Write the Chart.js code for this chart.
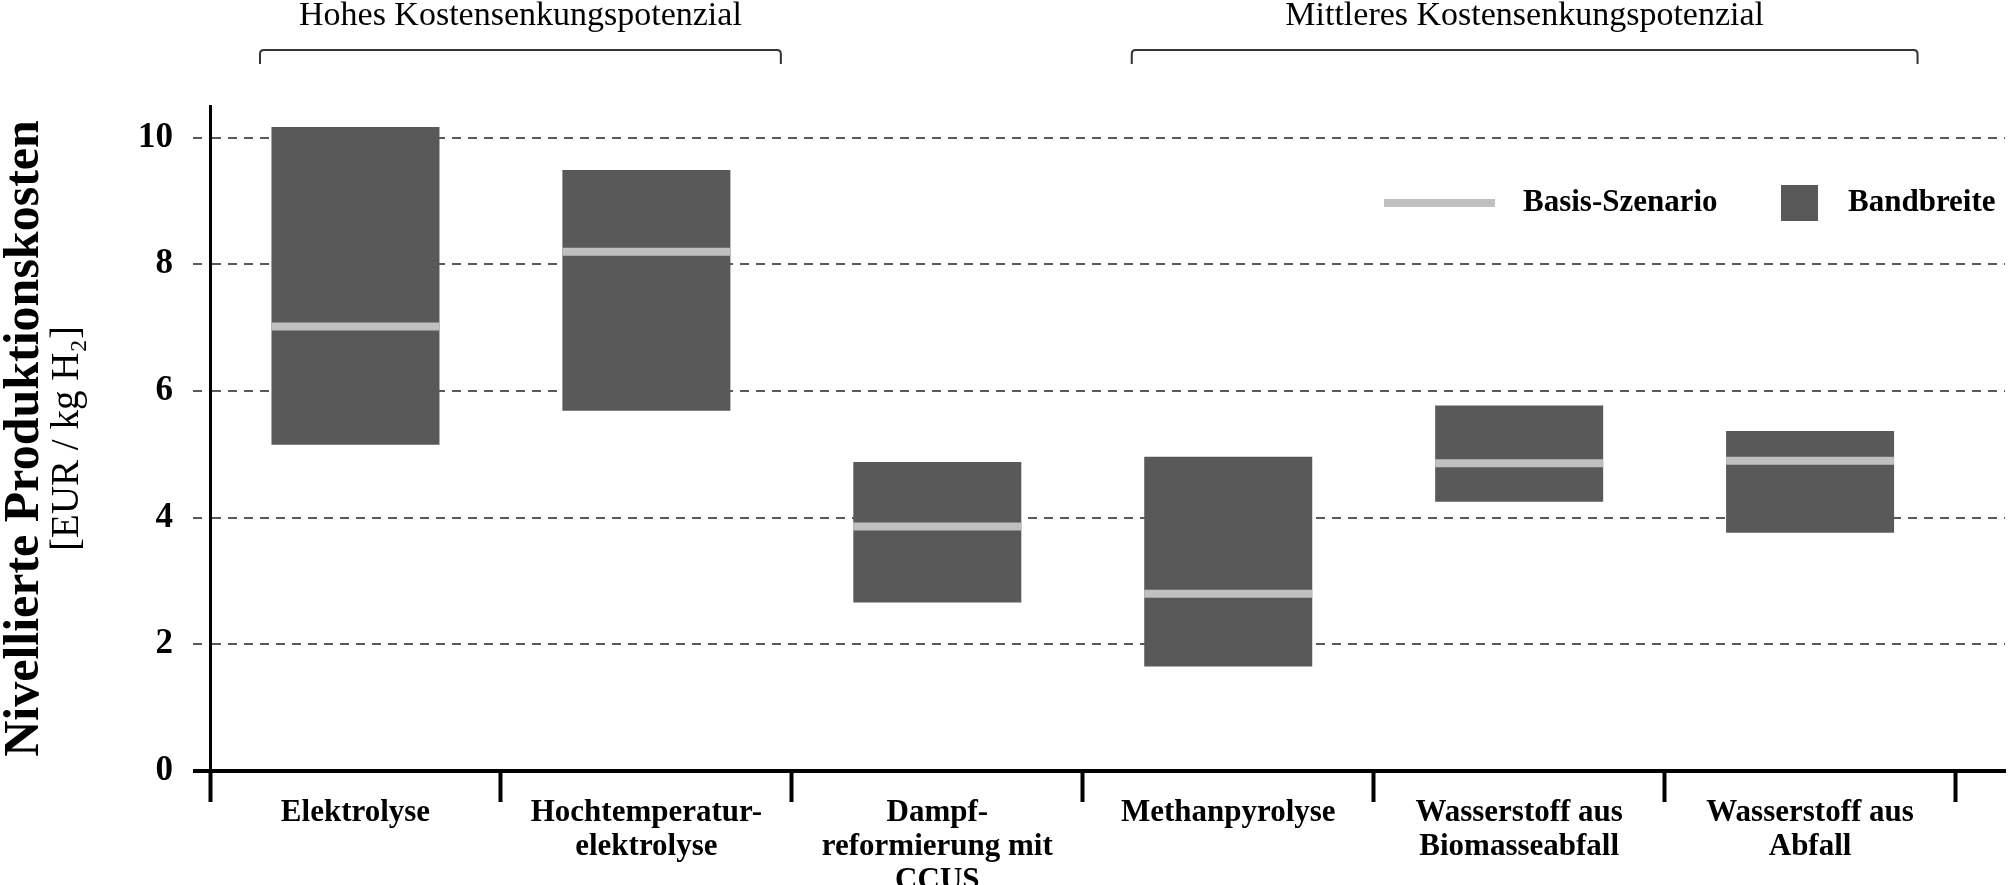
<!DOCTYPE html>
<html><head><meta charset="utf-8">
<script src="https://cdn.jsdelivr.net/npm/chart.js@4.4.0/dist/chart.umd.min.js"></script>
<style>html,body{margin:0;padding:0;background:#fff;} #wrap{width:2008px;height:885px;position:relative;}</style>
</head><body><div id="wrap"><canvas id="c" width="2008" height="885"></canvas></div>
<script>
const categories = [['Elektrolyse'], ['Hochtemperatur-','elektrolyse'], ['Dampf-','reformierung mit','CCUS'], ['Methanpyrolyse'], ['Wasserstoff aus','Biomasseabfall'], ['Wasserstoff aus','Abfall']];
const rangeLow  = [5.15, 5.69, 2.66, 1.65, 4.25, 3.76];
const rangeHigh = [10.17, 9.49, 4.88, 4.96, 5.77, 5.37];
const baseScenario = [7.02, 8.20, 3.86, 2.80, 4.86, 4.90];
const yTicks = [0, 2, 4, 6, 8, 10];
const groupLabels = ['Hohes Kostensenkungspotenzial', 'Mittleres Kostensenkungspotenzial'];
const groupFrom = [0, 3];
const groupTo = [1, 5];
const seriesNames = ['Basis-Szenario', 'Bandbreite'];
const yTitleMain = 'Nivellierte Produktionskosten';
const yTitleUnit = '[EUR / kg H\u2082]';

const SERIF = '"Liberation Serif", "Times New Roman", serif';
const DARK = '#595959', LIGHT = '#c0c0c0';
// bracket insets (px) from the category edges, per group
const BRACKET_INSET_L = [50, 49];
const BRACKET_INSET_R = [11, 38];

const decor = {
  id: 'decor',
  afterDraw(chart) {
    const {ctx, chartArea, scales: {x}} = chart;
    ctx.save();
    ctx.strokeStyle = '#333'; ctx.lineWidth = 2;
    ctx.fillStyle = '#000'; ctx.textAlign = 'center'; ctx.textBaseline = 'middle';
    ctx.font = '34px ' + SERIF;
    groupLabels.forEach((lab, i) => {
      const x1 = x.getPixelForValue(groupFrom[i] - 0.5) + BRACKET_INSET_L[i];
      const x2 = x.getPixelForValue(groupTo[i] + 0.5) - BRACKET_INSET_R[i];
      const yTop = 50, yBot = 64, r = 4;
      ctx.beginPath();
      ctx.moveTo(x1, yBot); ctx.lineTo(x1, yTop + r);
      ctx.quadraticCurveTo(x1, yTop, x1 + r, yTop);
      ctx.lineTo(x2 - r, yTop);
      ctx.quadraticCurveTo(x2, yTop, x2, yTop + r);
      ctx.lineTo(x2, yBot);
      ctx.stroke();
      ctx.fillText(lab, (x1 + x2) / 2, 16);
    });
    const ds = chart.data.datasets;
    const R = chartArea.right, ly = chartArea.top + 97;
    ctx.textAlign = 'left';
    ctx.font = 'bold 31px ' + SERIF;
    ctx.strokeStyle = ds[0].pointBorderColor; ctx.lineWidth = 8;
    ctx.beginPath(); ctx.moveTo(R - 621, ly); ctx.lineTo(R - 510, ly); ctx.stroke();
    ctx.fillText(ds[0].label, R - 482, ly);
    ctx.fillStyle = ds[1].backgroundColor;
    ctx.fillRect(R - 224, ly - 18, 37, 36);
    ctx.fillStyle = '#000';
    ctx.fillText(ds[1].label, R - 157, ly);
    ctx.restore();
  }
};

new Chart(document.getElementById('c'), {
  type: 'bar',
  data: {
    datasets: [
      {
        type: 'line', label: seriesNames[0],
        data: baseScenario.map((v, i) => ({x: i, y: v})),
        showLine: false, pointStyle: 'line', pointRadius: 84, pointHoverRadius: 84,
        pointBorderWidth: 8, pointHoverBorderWidth: 8,
        pointBorderColor: LIGHT, borderColor: LIGHT, pointBackgroundColor: LIGHT
      },
      {
        type: 'bar', label: seriesNames[1],
        data: rangeLow.map((v, i) => ({x: i, y: [v, rangeHigh[i]]})),
        backgroundColor: DARK, borderWidth: 0, grouped: false,
        barPercentage: 1.155, categoryPercentage: 1
      }
    ]
  },
  options: {
    responsive: false, devicePixelRatio: 1, animation: false,
    layout: {autoPadding: false, padding: {top: 106, right: 3, left: 0, bottom: 0}},
    plugins: {legend: {display: false}, tooltip: {enabled: false}},
    scales: {
      x: {
        type: 'linear', min: -0.5, max: 5.67, offset: false,
        afterBuildTicks: s => { s.ticks = []; for (let v = -0.5; v <= 5.5; v += 0.5) s.ticks.push({value: v}); },
        afterFit: s => { s.height = 114; s.paddingLeft = 0; s.paddingRight = 0; },
        ticks: {
          autoSkip: false, maxRotation: 0, minRotation: 0, padding: -6, color: '#000',
          font: {family: SERIF, size: 31, weight: 'bold', lineHeight: 1.1},
          callback: v => Number.isInteger(v) ? categories[v] : ''
        },
        grid: {
          offset: false, drawOnChartArea: false, drawTicks: true, tickLength: 31, tickWidth: 4,
          tickColor: c => (c.tick && !Number.isInteger(c.tick.value)) ? '#000' : 'rgba(0,0,0,0)'
        },
        border: {display: true, color: '#000', width: 4}
      },
      y: {
        type: 'linear', position: 'left', weight: 0, min: 0, max: 10.5,
        afterBuildTicks: s => { s.ticks = yTicks.map(v => ({value: v})); },
        afterFit: s => { s.width = 162; },
        ticks: {color: '#000', padding: 20, font: {family: SERIF, size: 35, weight: 'bold'}},
        grid: {
          color: DARK, lineWidth: 2, tickLength: 17,
          tickColor: c => (c.tick && c.tick.value === 0) ? '#000' : DARK,
          tickWidth: c => (c.tick && c.tick.value === 0) ? 4 : 2,
          tickBorderDash: c => (c.tick && c.tick.value === 0) ? [] : [9, 7]
        },
        border: {display: true, color: '#000', width: 3, dash: [9, 7]},
        title: {display: true, text: yTitleUnit, color: '#000', font: {family: SERIF, size: 39, lineHeight: 1}, padding: {top: 0, bottom: 0}}
      },
      y2: {
        type: 'linear', position: 'left', weight: 1, display: true,
        grid: {display: false, drawTicks: false}, ticks: {display: false}, border: {display: false},
        afterFit: s => { s.width = 48; },
        title: {display: true, text: yTitleMain, color: '#000', font: {family: SERIF, size: 50, weight: 'bold', lineHeight: 1.0}, padding: {top: 0, bottom: 0}}
      }
    }
  },
  plugins: [decor]
});
</script></body></html>
